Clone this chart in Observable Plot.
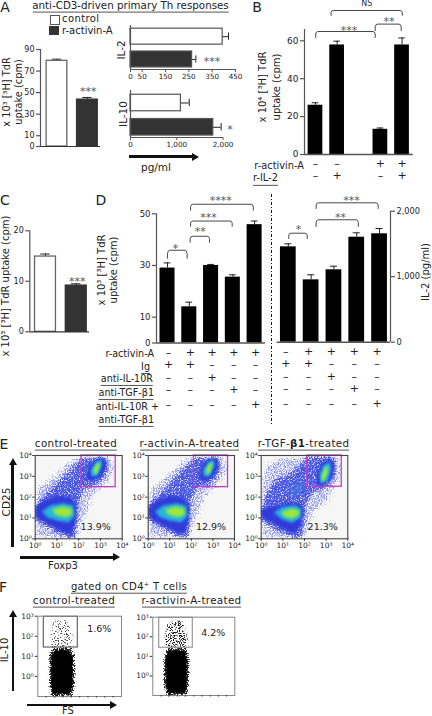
<!DOCTYPE html>
<html><head><meta charset="utf-8">
<script src="https://cdn.jsdelivr.net/npm/d3@7"></script>
<script src="https://cdn.jsdelivr.net/npm/@observablehq/plot@0.6"></script>
<style>
html,body{margin:0;padding:0;background:#fff}
#page{position:relative;width:432px;height:716px;overflow:hidden;font-family:"DejaVu Sans",sans-serif;color:#222}
#page svg{position:absolute;left:0;top:0}
.t{position:absolute;white-space:nowrap;line-height:1}
.u{border-bottom:1.3px solid #555;padding-bottom:1.5px}
</style></head><body>
<svg width="0" height="0" style="position:absolute"><defs>
<filter id="spkLav" x="-15%" y="-15%" width="130%" height="130%" color-interpolation-filters="sRGB">
<feGaussianBlur in="SourceGraphic" stdDeviation="2.8" result="b"/>
<feTurbulence type="fractalNoise" baseFrequency="0.85" numOctaves="2" seed="4" result="n"/>
<feColorMatrix in="n" type="matrix" values="0 0 0 0 0 0 0 0 0 0 0 0 0 0 0 3 0 0 0 -1.25" result="na"/>
<feComposite in="b" in2="na" operator="arithmetic" k2="1" k3="1" k4="-1" result="s"/>
<feComponentTransfer in="s" result="t"><feFuncA type="linear" slope="1.8"/></feComponentTransfer>
<feFlood flood-color="#9096ec"/><feComposite in2="t" operator="in"/>
</filter>
<filter id="spkBlue" x="-15%" y="-15%" width="130%" height="130%" color-interpolation-filters="sRGB">
<feGaussianBlur in="SourceGraphic" stdDeviation="2" result="b"/>
<feTurbulence type="fractalNoise" baseFrequency="0.85" numOctaves="2" seed="9" result="n"/>
<feColorMatrix in="n" type="matrix" values="0 0 0 0 0 0 0 0 0 0 0 0 0 0 0 3 0 0 0 -0.95" result="na"/>
<feComposite in="b" in2="na" operator="arithmetic" k2="1" k3="1" k4="-1" result="s"/>
<feComponentTransfer in="s" result="t"><feFuncA type="linear" slope="2"/></feComponentTransfer>
<feFlood flood-color="#4a57e0"/><feComposite in2="t" operator="in"/>
</filter>
<filter id="spkBlack" x="-15%" y="-15%" width="130%" height="130%" color-interpolation-filters="sRGB">
<feGaussianBlur in="SourceGraphic" stdDeviation="1.1" result="b"/>
<feTurbulence type="fractalNoise" baseFrequency="0.85" numOctaves="2" seed="6" result="n"/>
<feColorMatrix in="n" type="matrix" values="0 0 0 0 0 0 0 0 0 0 0 0 0 0 0 3 0 0 0 -0.9" result="na"/>
<feComposite in="b" in2="na" operator="arithmetic" k2="1" k3="1" k4="-1" result="s"/>
<feComponentTransfer in="s" result="t"><feFuncA type="linear" slope="4"/></feComponentTransfer>
<feFlood flood-color="#222"/><feComposite in2="t" operator="in"/>
</filter>
</defs></svg>
<div id="page"></div>
<script>
// ---------- values ----------
const aGroups = ["control", "r-activin-A"];
const aUptake = [79.5, 43.5], aUptakeErr = [81, 45.5];
const aIL2 = [395, 264], aIL2Err = [420, 280];
const aIL10 = [1090, 1790], aIL10Err = [1270, 1960];

const bVals = [26, 57.8, null, 13.3, 57.8], bErrs = [27.3, 59.8, null, 14, 61.5];
const bActivin = ["–", "–", "", "+", "+"], bIL2 = ["–", "+", "", "–", "+"];

const cVals = [14.9, 9.15], cErrs = [15.4, 9.5];

const dLeft = [29, 14, 30, 25.5, 45.8], dLeftErr = [31, 15.8, 30.4, 26.4, 47.2];
const dRight = [1456, 952, 1105, 1603, 1655], dRightErr = [1502, 1029, 1160, 1670, 1736];
const dRows = [
  ["–", "+", "+", "+", "+"],
  ["+", "+", "–", "–", "–"],
  ["–", "–", "+", "–", "–"],
  ["–", "–", "–", "+", "–"],
  ["–", "–", "–", "–", "+"]
];
const dRowLabels = ["r-activin-A", "Ig", "anti-IL-10R", "anti-TGF-β1", "anti-IL-10R +", "anti-TGF-β1"];

// flow density outlines, in log10 units (Foxp3, CD25)
const ctlHalo = [[0,0],[0,2.3],[.4,2.7],[.9,3.1],[1.4,3.6],[1.9,3.95],[3.5,4],[3.7,3.3],[3.3,2.6],[2.7,2.1],[2.4,1.3],[2.1,.6],[1.9,0]];
const ctlMid = [[0,1.63],[.4,2.08],[.86,2.56],[1.39,3.12],[1.85,3.6],[2.24,3.92],[3.16,3.92],[3.34,3.6],[3.23,2.96],[2.77,2.56],[2.24,2.4],[2,1.84],[1.96,.88],[1.85,.03],[1.47,.03],[.7,.45],[0,.88]];
const ctlDeepA = [[0,1.52],[.4,1.84],[1.01,2.08],[1.62,2],[1.9,1.6],[1.87,.88],[1.7,.24],[1.32,.32],[.7,.64],[0,1.04]];
const ctlDeepB = [[2.36,3.2],[2.54,3.6],[2.93,3.89],[3.23,3.84],[3.28,3.44],[3,2.96],[2.62,2.75],[2.36,2.88]];
const ctlCyanA = [[.32,1.31],[.7,1.6],[1.32,1.71],[1.75,1.6],[1.81,1.12],[1.55,.8],[1.01,.88],[.55,1.04]];
const ctlCyanB = [[2.54,3.28],[2.77,3.68],[3.03,3.81],[3.08,3.52],[2.85,3],[2.59,3]];
const ctlGreenA = [[.78,1.41],[1.24,1.55],[1.66,1.47],[1.7,1.15],[1.39,1.04],[.93,1.15]];
const ctlGreenB = [[2.7,3.36],[2.88,3.65],[2.97,3.6],[2.88,3.2],[2.7,3.12]];

const tgfHalo = [[0,0],[0,2.9],[.3,3.6],[.9,3.9],[3.6,4],[3.7,3],[3.3,2.2],[3,1.7],[2.4,1.2],[2.2,.4],[1.9,0]];
const tgfMid = [[0,1.5],[.2,2.15],[.66,2.87],[1.28,3.11],[1.9,3.68],[2.12,3.97],[3.35,3.97],[3.48,3.35],[3.2,2.55],[2.43,2.23],[2.12,1.74],[2.02,1.1],[1.9,.05],[1.43,.05],[.74,.37],[0,.85]];
const tgfDeepA = [[0,1.42],[.58,1.58],[1.28,1.74],[1.9,1.66],[1.97,1.26],[1.82,.61],[1.5,.21],[.74,.65],[0,1.02]];
const tgfBridge = [[1.38,2.6],[1.74,2.8],[2,2.7],[1.95,2.3],[1.55,2],[1.3,2.15]];
const tgfDeepB = [[2.58,3.11],[2.82,3.68],[3.17,3.84],[3.4,3.6],[3.32,2.95],[2.89,2.55],[2.55,2.55]];
const tgfCyanA = [[.58,1.26],[.97,1.53],[1.58,1.61],[1.86,1.42],[1.82,1.02],[1.43,.77],[.97,.94]];
const tgfCyanB = [[2.7,3.11],[2.89,3.55],[3.17,3.68],[3.23,3.35],[3.08,2.79],[2.74,2.63]];
const tgfGreenA = [[.92,1.26],[1.35,1.45],[1.74,1.39],[1.74,1.13],[1.43,.97],[1.08,1.06]];
const tgfGreenB = [[2.82,3.11],[2.97,3.44],[3.08,3.48],[3.05,3.11],[2.89,2.79],[2.78,2.79]];

// FS / IL-10 outlines
const fBlob = [[170,-.98],[143,-.5],[143,1],[175,1.38],[290,1.42],[400,1.38],[435,1],[435,-.5],[400,-.98]];
const fCore = [[190,-.85],[165,-.5],[165,.9],[195,1.25],[290,1.3],[380,1.25],[412,.9],[412,-.5],[380,-.85]];
const fSparse = [[170,1.35],[150,2],[190,2.8],[360,2.8],[420,2],[420,1.35]];

const FONT = '"DejaVu Sans",sans-serif';
const DARK = "#333", AXIS = "#555";
const page = document.getElementById("page");

// ---------- helpers ----------
function panel(px, py, xd, yd, marks) {
  const svg = Plot.plot({
    width: 432, height: 716,
    marginLeft: px[0], marginRight: 432 - px[1], marginTop: py[0], marginBottom: 716 - py[1],
    x: {type: "linear", domain: xd, axis: null},
    y: {type: "linear", domain: yd, axis: null},
    style: {background: "transparent", fontFamily: FONT, color: "#222", overflow: "visible"},
    marks
  });
  page.appendChild(svg);
}
function label(text, x, y, o = {}) {
  const d = document.createElement("div");
  d.className = "t" + (o.u ? " u" : "");
  if (o.html) d.innerHTML = text; else d.textContent = text;
  d.style.left = x + "px"; d.style.top = (o.u ? y + 1.4 : y) + "px";
  d.style.fontSize = (o.size || 10) + "px";
  const tx = o.a === "start" ? "0" : o.a === "end" ? "-100%" : "-50%";
  d.style.transform = `translate(${tx},-50%)` + (o.rot ? " rotate(-90deg)" : "");
  if (o.color) d.style.color = o.color;
  if (o.ls) d.style.letterSpacing = o.ls + "px";
  page.appendChild(d);
}
function box(x, y, w, h, css) {
  const d = document.createElement("div");
  d.style.cssText = `position:absolute;left:${x}px;top:${y}px;width:${w}px;height:${h}px;${css}`;
  page.appendChild(d);
}
function arrowH(x1, x2, y) {
  box(x1, y - 1.25, x2 - x1 - 6, 2.5, "background:#111");
  box(x2 - 7, y - 4, 0, 0, "border-left:7px solid #111;border-top:4px solid transparent;border-bottom:4px solid transparent");
}
function arrowV(x, yTop, yBot) {
  box(x - 1.25, yTop + 6, 2.5, yBot - yTop - 6, "background:#111");
  box(x - 4, yTop, 0, 0, "border-bottom:7px solid #111;border-left:4px solid transparent;border-right:4px solid transparent");
}
const idx = (d, i) => i + 1;
function barsY(vals, errs, hw, fills, stroke) {
  const rows = vals.map((v, i) => ({i: i + 1, v, e: errs[i], fill: fills[i % fills.length], stroke: stroke ? stroke[i % stroke.length] : "none"})).filter(d => d.v != null);
  return [
    Plot.ruleX(rows, {x: "i", y1: "v", y2: "e", stroke: "#222", strokeWidth: 1}),
    Plot.ruleY(rows, {y: "e", x1: d => d.i - hw * .45, x2: d => d.i + hw * .45, stroke: "#222", strokeWidth: 1}),
    Plot.rectY(rows, {x1: d => d.i - hw, x2: d => d.i + hw, y1: 0, y2: "v", fill: "fill", stroke: "stroke", strokeWidth: 1.3})
  ];
}
function barsX(vals, errs, hw, fills) {
  const rows = vals.map((v, i) => ({i: i + 1, v, e: errs[i], fill: fills[i]}));
  return [
    Plot.ruleY(rows, {y: "i", x1: "v", x2: "e", stroke: "#222", strokeWidth: 1}),
    Plot.ruleX(rows, {x: "e", y1: d => d.i - hw * .45, y2: d => d.i + hw * .45, stroke: "#222", strokeWidth: 1}),
    Plot.rectX(rows, {y1: d => d.i - hw, y2: d => d.i + hw, x1: 0, x2: "v", fill: "fill", stroke: "#555", strokeWidth: 1.2})
  ];
}
function bracket(x1, x2, yEnd, yTop) {
  const cy = (yTop - yEnd) * .4, cx = .1;
  const pts = [[x1, yEnd], [x1, yTop - cy], [x1 + cx * .35, yTop - cy * .25], [x1 + cx, yTop], [x2 - cx, yTop], [x2 - cx * .35, yTop - cy * .25], [x2, yTop - cy], [x2, yEnd]];
  return Plot.line(pts, {x: "0", y: "1", stroke: "#333", strokeWidth: .9});
}
function stars(s, x, y) {
  return Plot.text([s], {x: () => x, y: () => y, text: d => d, fontSize: 11, fill: "#555", dy: 2});
}
function row(symbols, dy, dx = 0) {
  return Plot.text(symbols, {x: idx, frameAnchor: "bottom", dy, dx, text: d => d, fontSize: 11, fill: "#222"});
}
const yAxis = (ticks, fmt, anchor = "left", size = 8.5) => [
  Plot.axisY({ticks, anchor, label: null, tickSize: 4, tickPadding: 2, fontSize: size, stroke: AXIS, strokeWidth: 1.2, tickFormat: fmt || (d => d)})
];
const xFmt = d3.format(",");

// ---------- panel A ----------
label("A", 5, 7, {size: 14});
label("anti-CD3-driven primary Th responses", 130.5, 5, {size: 10.3, u: 1});
box(49.5, 15, 8, 8, "border:1.2px solid #555;background:#fff");
box(49, 26, 9.5, 8.5, "background:#333");
label(aGroups[0], 62, 19, {a: "start", size: 10, ls: .4});
label(aGroups[1], 62, 30.5, {a: "start", size: 10});
label("x 10³ [³H] TdR", 7, 92, {rot: 1, size: 9.8});
label("uptake (cpm)", 19, 92, {rot: 1, size: 9.8});

panel([40, 100], [49, 146], [.459, 2.43], [0, 90], [
  ...barsY(aUptake, aUptakeErr, .34, ["#fff", DARK], ["#666", DARK]),
  Plot.ruleX([.459], {stroke: AXIS, strokeWidth: 1.2}),
  Plot.ruleY([0], {stroke: "#333", strokeWidth: 1.2}),
  ...yAxis([0, 10, 30, 50, 70, 90], null, "left", 8),
  stars("***", 2.03, 52.9)
]);

panel([130, 235], [25, 69], [0, 450], [2.44, .51], [
  ...barsX(aIL2, aIL2Err, .35, ["#fff", DARK]),
  Plot.ruleX([0], {stroke: AXIS, strokeWidth: 1.2}),
  Plot.axisX({ticks: [0, 50, 150, 250, 350, 450], anchor: "bottom", label: null, tickSize: 3, tickPadding: 1, fontSize: 7.2, stroke: AXIS}),
  Plot.ruleY([2.44], {stroke: AXIS, strokeWidth: 1.2}),
  stars("***", 349, 2)
]);
label("IL-2", 121, 50, {rot: 1, size: 10.5});

panel([130, 222.5], [90, 137], [0, 2000], [2.42, .486], [
  ...barsX(aIL10, aIL10Err, .34, ["#fff", DARK]),
  Plot.ruleX([0], {stroke: AXIS, strokeWidth: 1.2}),
  Plot.axisX({ticks: [0, 1000, 2000], tickFormat: xFmt, anchor: "bottom", label: null, tickSize: 3, tickPadding: 1, fontSize: 7.2, stroke: AXIS}),
  Plot.ruleY([2.42], {stroke: AXIS, strokeWidth: 1.2}),
  stars("*", 2150, 2)
]);
label("IL-10", 123, 114, {rot: 1, size: 10.5});
arrowH(129, 199, 156.5);
label("pg/ml", 156, 167, {size: 10.5});

// ---------- panel B ----------
label("B", 257, 7, {size: 14});
label("x 10⁴ [³H] TdR", 263, 87, {rot: 1, size: 10});
label("uptake (cpm)", 277, 87, {rot: 1, size: 10});
panel([304, 412.7], [29, 154], [.493, 5.516], [0, 65.96], [
  ...barsY(bVals, bErrs, .34, ["#000"]),
  Plot.ruleX([.493], {stroke: AXIS, strokeWidth: 1.2}),
  Plot.ruleY([0], {stroke: AXIS, strokeWidth: 1.4}),
  ...yAxis([0, 20, 40, 60], null, "left", 9),
  bracket(1.01, 3.76, 61.7, 64.9),
  bracket(3.76, 4.96, 65.4, 68.8),
  bracket(1.72, 5.01, 73.4, 76),
  stars("***", 2.55, 66.6),
  stars("**", 4.4, 71.5),
  Plot.text(["NS"], {x: () => 3.37, y: () => 79.6, text: d => d, fontSize: 8, fill: "#333"}),
  row(bActivin, 12),
  row(bIL2, 24)
]);
label("r-activin-A", 304, 166, {a: "end", size: 9.8});
label("r-IL-2", 253, 178, {a: "start", size: 9.8, u: 1});

// ---------- panel C ----------
label("C", 5, 200, {size: 14});
label("x 10³ [³H] TdR uptake (cpm)", 6, 286, {rot: 1, size: 10});
panel([29.3, 89], [230.3, 331.3], [.49, 2.43], [0, 20], [
  ...barsY(cVals, cErrs, .34, ["#fff", DARK], ["#666", DARK]),
  Plot.ruleX([.49], {stroke: AXIS, strokeWidth: 1.2}),
  Plot.ruleY([0], {stroke: "#333", strokeWidth: 1.2}),
  ...yAxis([0, 10, 20], null, "left", 8),
  stars("***", 2.03, 10.4)
]);

// ---------- panel D ----------
label("D", 101, 200, {size: 14});
label("x 10³ [³H] TdR", 102, 270, {rot: 1, size: 10});
label("uptake (cpm)", 114, 270, {rot: 1, size: 10});
panel([156, 265], [213.3, 342.5], [.494, 5.5], [0, 50], [
  ...barsY(dLeft, dLeftErr, .345, ["#000"]),
  Plot.ruleX([.494], {stroke: AXIS, strokeWidth: 1.2}),
  Plot.ruleY([0], {stroke: AXIS, strokeWidth: 1.4}),
  ...yAxis([0, 10, 30, 50]),
  bracket(1, 1.9, 32.8, 35.9),
  bracket(2.04, 2.93, 39, 41.3),
  bracket(2.06, 3.97, 45.2, 47.2),
  bracket(2.06, 4.94, 51.4, 53.7),
  stars("*", 1.37, 37.4),
  stars("**", 2.5, 44),
  stars("***", 2.88, 49.4),
  stars("****", 3.44, 56),
  ...dRows.map((r, k) => row(r, [12.5, 25, 37.5, 50, 64.5][k], 1))
]);
[[354, 154, 0], [367, 150, 1], [379, 153, 1], [392.5, 154, 1], [406.5, 159, 1], [420, 154, 1]].forEach(([y, x, u], k) => {
  const o = {a: "end", size: 9.6, u};
  if (k === 4) o.u = 0;
  label(dRowLabels[k], x, y, o);
});
box(271, 194, 1, 231, "background:repeating-linear-gradient(to bottom,#111 0 3px,transparent 3px 5px,#111 5px 6px,transparent 6px 8px)");
panel([276.7, 390], [210.7, 341.7], [.513, 5.48], [0, 2000], [
  ...barsY(dRight, dRightErr, .345, ["#000"]),
  Plot.ruleX([5.48], {stroke: AXIS, strokeWidth: 1.2}),
  Plot.ruleY([0], {stroke: AXIS, strokeWidth: 1.4}),
  ...yAxis([0, 1000, 2000], xFmt, "right", 8.2),
  bracket(1.02, 1.83, 1583, 1664),
  bracket(2.22, 4.07, 1766, 1869),
  bracket(2.22, 4.94, 2041, 2128),
  stars("*", 1.45, 1751),
  stars("**", 3.29, 1934),
  stars("***", 3.77, 2194),
  ...dRows.map((r, k) => row(r, [12.5, 25, 37.5, 50, 64.5][k], -2.5))
]);
label("IL-2 (pg/ml)", 426, 272, {rot: 1, size: 10});

// ---------- panel E ----------
const pow = ["10⁰", "10¹", "10²", "10³", "10⁴"];
function flow(px, py, layers, gate, pct) {
  const poly = (pts, o) => Plot.line(pts, {x: "0", y: "1", stroke: "none", clip: true, ...o});
  panel(px, py, [0, 4], [0, 4], [
    Plot.frame({fill: "#f6f6f6", stroke: "none"}),
    ...layers.map(([pts, o]) => poly(pts, o)),
    Plot.rect([gate], {x1: d => d[0], x2: d => d[1], y1: d => d[2], y2: d => d[3], stroke: "#c23cc6", strokeWidth: 1.3, fill: "none"}),
    Plot.frame({stroke: "#444", strokeWidth: 1.1}),
    Plot.axisX({ticks: [0, 1, 2, 3, 4], tickFormat: d => pow[d], anchor: "bottom", label: null, tickSize: 2.5, tickPadding: 1, fontSize: 7.5, stroke: "#333"}),
    Plot.axisY({ticks: [0, 1, 2, 3, 4], tickFormat: d => pow[d], anchor: "left", label: null, tickSize: 2.5, tickPadding: 1, fontSize: 7.5, stroke: "#333"})
  ]);
  label(pct[0], pct[1], 526.7, {size: 9.5});
}
const soft = (c, b = 1.4, op = 1) => ({fill: c, fillOpacity: op, imageFilter: `blur(${b}px)`});
const ctlLayers = [
  [ctlHalo, {fill: "#000", imageFilter: "url(#spkLav)"}],
  [ctlMid, {fill: "#000", imageFilter: "url(#spkBlue)"}],
  [ctlDeepA, soft("#2f3ad8", 1.6)], [ctlDeepB, soft("#2f3ad8", 1.4)],
  [ctlCyanA, soft("#27b6dd", 1.6)], [ctlCyanB, soft("#27b6dd", 1.2)],
  [ctlGreenA, soft("#9ce83c", 1.8)], [ctlGreenB, soft("#9ce83c", 1.1)]
];
const tgfLayers = [
  [tgfHalo, {fill: "#000", imageFilter: "url(#spkLav)"}],
  [tgfMid, {fill: "#000", imageFilter: "url(#spkBlue)"}],
  [tgfBridge, soft("#3f78dc", 2.2, .55)],
  [tgfDeepA, soft("#2f3ad8", 1.6)], [tgfDeepB, soft("#2f3ad8", 1.4)],
  [tgfCyanA, soft("#27b6dd", 1.6)], [tgfCyanB, soft("#27b6dd", 1.2)],
  [tgfGreenA, soft("#9ce83c", 1.8)], [tgfGreenB, soft("#9ce83c", 1.3)]
];
label("E", 4, 444, {size: 14});
label("control-treated", 76, 442.5, {size: 10.3, u: 1, ls: .35});
label("r-activin-A-treated", 189.5, 442.5, {size: 10.3, u: 1, ls: .35});
label('r-TGF-<b>β1</b>-treated', 303.5, 442.5, {size: 10.3, u: 1, html: 1, ls: .35});
flow([34.7, 121.7], [455, 538.3], ctlLayers, [2.13, 3.7, 2.48, 4], ["13.9%", 95.7]);
flow([147.7, 234], [455, 538.3], ctlLayers, [2.12, 3.7, 2.48, 4], ["12.9%", 211]);
flow([260.7, 347.3], [455, 538.3], tgfLayers, [2.13, 3.72, 2.5, 4], ["21.3%", 322.7]);
label("CD25", 5.5, 501.5, {rot: 1, size: 10.5});
arrowV(12.7, 458, 546.7);
arrowH(20, 120, 557.3);
label("Foxp3", 63, 566, {size: 10});

// ---------- panel F ----------
function flowF(px, py, sparseAlpha, gate, gateColor, pct) {
  panel(px, py, [0, 1000], [-1, 3], [
    Plot.line(fSparse, {x: "0", y: "1", fill: "#000", fillOpacity: sparseAlpha, stroke: "none", imageFilter: "url(#spkBlack)"}),
    Plot.line(fBlob, {x: "0", y: "1", fill: "#000", stroke: "none", imageFilter: "url(#spkBlack)"}),
    Plot.line(fCore, {x: "0", y: "1", fill: "#000", stroke: "none"}),
    Plot.rect([gate], {x1: d => d[0], x2: d => d[1], y1: d => d[2], y2: d => d[3], stroke: gateColor, strokeWidth: 1.2, fill: "none"}),
    Plot.frame({stroke: "#888", strokeWidth: 1}),
    Plot.axisX({ticks: [100, 200, 300, 400, 500, 600, 700, 800, 900], tickFormat: () => "", anchor: "bottom", label: null, tickSize: 1.5, stroke: "#333"}),
    Plot.axisY({ticks: [0, 1, 2, 3], tickFormat: d => pow[d], anchor: "left", label: null, tickSize: 2.5, tickPadding: 1.5, fontSize: 7.5, stroke: "#333"})
  ]);
  label(pct[0], pct[1], pct[2], {size: 9.5});
}
label("F", 3, 587, {size: 14});
label("gated on CD4⁺ T cells", 129, 586.5, {size: 10.1, u: 1, ls: .3});
label("control-treated", 74, 600, {size: 10.3, u: 1, ls: .35});
label("r-activin-A-treated", 191.5, 600, {size: 10.3, u: 1, ls: .35});
flowF([37.3, 121], [615.7, 696], .2, [72, 478, 1.44, 2.97], "#666", ["1.6%", 99.3, 629.3]);
flowF([152.3, 234.3], [616.7, 695], .4, [78, 488, 1.44, 2.97], "#999", ["4.2%", 213.3, 632.7]);
label("IL-10", 4.5, 650, {rot: 1, size: 10});
arrowV(13, 610, 691);
arrowH(27, 117, 705);
label("FS", 68, 711, {size: 10});
</script>
</body></html>
